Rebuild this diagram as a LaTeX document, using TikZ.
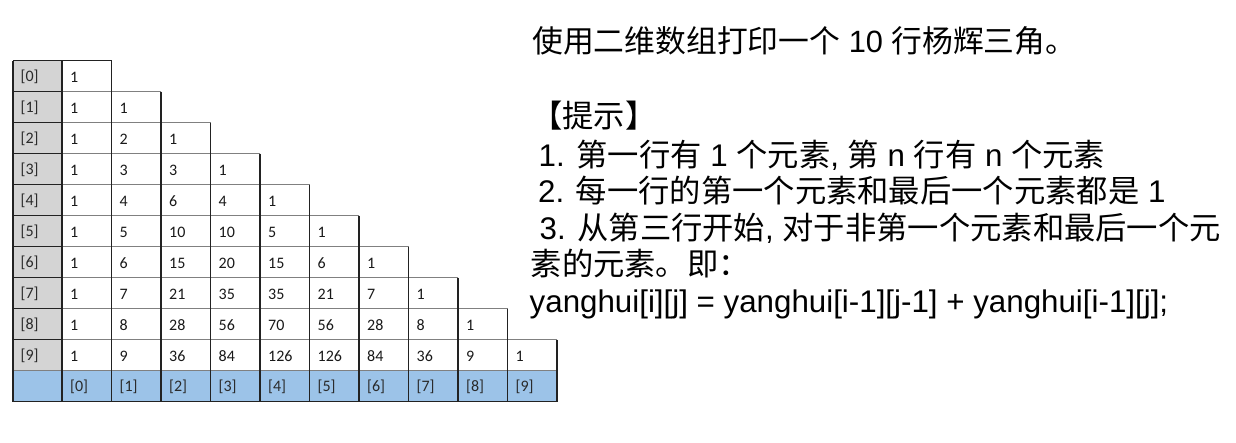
\documentclass[tikz,border=0pt]{standalone}
\usepackage{fontspec}
\setmainfont{Liberation Sans}
\newfontfamily\cjk{Noto Sans CJK SC}
\newfontfamily\tblfont{Carlito}
\definecolor{lblgray}{HTML}{D4D4D4}
\definecolor{idxblue}{HTML}{9CC3E8}
\definecolor{hline}{HTML}{808080}
\definecolor{vline}{HTML}{222222}
\definecolor{lbltext}{HTML}{2A2A2A}
\begin{document}
\begin{tikzpicture}[x=1pt,y=-1pt,
  cell/.style={anchor=west,inner sep=0pt,text=black!90,font=\tblfont\fontsize{16}{18}\selectfont},
  lbl/.style={cell,text=lbltext},
  txt/.style={anchor=base west,inner sep=0pt,font=\fontsize{31.3}{36}\selectfont}]
\useasboundingbox[fill=white] (0,0) rectangle (1236,442);
% fills
\fill[lblgray] (13,60.5) rectangle (62,370.5);
\fill[idxblue] (13,370.5) rectangle (557,401.5);
% horizontal lines
\foreach \i in {0,...,9}{
  \draw[hline,line width=1.1pt] (13,60.5+31*\i) -- (62+49.5*\i+49.5,60.5+31*\i);
  \draw[vline,line width=1.1pt] (13,60.5+31*\i) -- (62,60.5+31*\i);
}
\draw[vline,line width=1.1pt] (13,60.5) -- (111.5,60.5);
\draw[hline,line width=1.1pt] (13,370.5) -- (557,370.5);
\draw[vline,line width=1.3pt] (13,401.5) -- (557,401.5);
% vertical lines
\draw[vline,line width=1.3pt] (13,60.5) -- (13,401.5);
\draw[vline,line width=1.3pt] (62,60.5) -- (62,401.5);
\foreach \k in {0,...,9}{
  \draw[vline,line width=1.1pt] (62+49.5*\k+49.5,60.5+31*\k) -- (62+49.5*\k+49.5,401.5);
}
% row labels and values
\foreach \r/\vals in {0/{1},1/{1,1},2/{1,2,1},3/{1,3,3,1},4/{1,4,6,4,1},
  5/{1,5,10,10,5,1},6/{1,6,15,20,15,6,1},7/{1,7,21,35,35,21,7,1},
  8/{1,8,28,56,70,56,28,8,1},9/{1,9,36,84,126,126,84,36,9,1}}{
  \node[lbl] (r\r) at (20.5,77+31*\r) {[\r]};
  \foreach \v [count=\c from 0] in \vals {
    \node[cell] (c\r-\c) at (70,77+31*\r) [xshift=49.5*\c] {\v};
  }
}
\foreach \c in {0,...,9}{
  \node[lbl] (i\c) at (70,387) [xshift=49.5*\c] {[\c]};
}
% right text
\node[txt,font=\fontsize{30.8}{36}\selectfont] (t1) at (532,52.5) {{\cjk 使用二维数组打印一个} 10 {\cjk 行杨辉三角。}};
\node[txt] (t2) at (531,127) {{\cjk 【提示】}};
\node[txt] (t3) at (538.5,166) {1. {\cjk 第一行有} 1 {\cjk 个元素}, {\cjk 第} n {\cjk 行有} n {\cjk 个元素}};
\node[txt] (t4) at (538,202.5) {2. {\cjk 每一行的第一个元素和最后一个元素都是} 1};
\node[txt] (t5) at (539.5,239) {3. {\cjk 从第三行开始}, {\cjk 对于非第一个元素和最后一个元}};
\node[txt] (t6) at (530.5,275.5) {{\cjk 素的元素。即：}};
\node[txt] (t7) at (529.5,312) {yanghui[i][j] = yanghui[i-1][j-1] + yanghui[i-1][j];};
\end{tikzpicture}
\end{document}
